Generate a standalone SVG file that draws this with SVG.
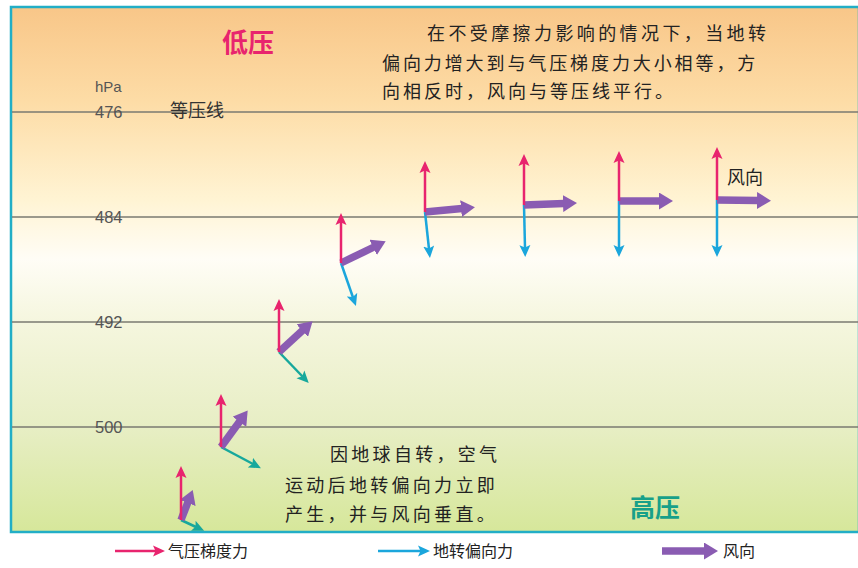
<svg xmlns="http://www.w3.org/2000/svg" width="858" height="568" viewBox="0 0 858 568">
<defs>
<linearGradient id="bg" x1="0" y1="6" x2="0" y2="533" gradientUnits="userSpaceOnUse">
<stop offset="0" stop-color="#f8c688"/>
<stop offset="0.18" stop-color="#fddca6"/>
<stop offset="0.37" stop-color="#fff4d4"/>
<stop offset="0.48" stop-color="#fffdf6"/>
<stop offset="0.6" stop-color="#f5f6de"/>
<stop offset="0.8" stop-color="#e7eec4"/>
<stop offset="1" stop-color="#d6e79a"/>
</linearGradient>
<marker id="hr" viewBox="0 -6 12 12" markerUnits="userSpaceOnUse" markerWidth="12" markerHeight="12" refX="3" refY="0" orient="auto"><path d="M0,-5.5 L12,0 L0,5.5 L2.5,0 Z" fill="#e8246e"/></marker>
<marker id="hb" viewBox="0 -6 12 12" markerUnits="userSpaceOnUse" markerWidth="12" markerHeight="12" refX="3" refY="0" orient="auto"><path d="M0,-5.5 L12,0 L0,5.5 L2.5,0 Z" fill="#1ba6dc"/></marker>
<marker id="ht" viewBox="0 -6 12 12" markerUnits="userSpaceOnUse" markerWidth="12" markerHeight="12" refX="3" refY="0" orient="auto"><path d="M0,-5.5 L12,0 L0,5.5 L2.5,0 Z" fill="#17a89c"/></marker>
<marker id="hp" viewBox="0 -8.5 14 17" markerUnits="userSpaceOnUse" markerWidth="14" markerHeight="17" refX="1" refY="0" orient="auto"><path d="M0,-8.5 L14,0 L0,8.5 Z" fill="#8a5cb2"/></marker>
<clipPath id="pc"><rect x="11" y="7" width="848" height="525"/></clipPath>
</defs>
<style>
.iso{stroke:#7a7a70;stroke-width:1.3}
.num{font-family:"Liberation Sans",Arial,sans-serif;font-size:16.5px;fill:#555}
.cn{font-family:"Noto Sans CJK SC","Noto Sans",sans-serif;fill:#222}
.r{stroke:#e8246e;stroke-width:2.5;fill:none;marker-end:url(#hr)}
.b{stroke:#1ba6dc;stroke-width:2.5;fill:none;marker-end:url(#hb)}
.t{stroke:#17a89c;stroke-width:2.5;fill:none;marker-end:url(#ht)}
.p{stroke:#8a5cb2;stroke-width:7.5;fill:none;marker-end:url(#hp)}
</style>
<rect width="858" height="568" fill="#ffffff"/>
<rect x="11" y="7" width="848" height="525" fill="url(#bg)" stroke="#22aec6" stroke-width="2.5"/>
<g id="isobars">
<line class="iso" x1="12" y1="112" x2="858" y2="112"/>
<line class="iso" x1="12" y1="217" x2="858" y2="217"/>
<line class="iso" x1="12" y1="322" x2="858" y2="322"/>
<line class="iso" x1="12" y1="427" x2="858" y2="427"/>
<text class="num" x="95" y="92" style="font-size:15px">hPa</text>
<text class="num" x="95" y="118">476</text>
<text class="num" x="95" y="223">484</text>
<text class="num" x="95" y="328">492</text>
<text class="num" x="95" y="433">500</text>
<text class="cn" x="170" y="117" font-size="18" style="fill:#333">等压线</text>
</g>
<g id="labels">
<text class="cn" x="222" y="52" font-size="26" font-weight="bold" style="fill:#e8246e">低压</text>
<text class="cn" x="630" y="517" font-size="25" font-weight="bold" style="fill:#17a089">高压</text>
<text class="cn" font-size="18"><tspan x="427" y="40" letter-spacing="3.4">在不受摩擦力影响的情况下，当地转</tspan><tspan x="382" y="70" letter-spacing="2.9">偏向力增大到与气压梯度力大小相等，方</tspan><tspan x="382" y="98" letter-spacing="3">向相反时，风向与等压线平行。</tspan></text>
<text class="cn" font-size="18" letter-spacing="3.3"><tspan x="330" y="461">因地球自转，空气</tspan><tspan x="285" y="492">运动后地转偏向力立即</tspan><tspan x="285" y="521">产生，并与风向垂直。</tspan></text>
<text class="cn" x="727" y="184" font-size="18">风向</text>
</g>
<g id="connectors" clip-path="url(#pc)">
<g id="v1"><line class="t" x1="181" y1="520" x2="196" y2="527"/><line class="p" x1="181" y1="520" x2="188" y2="502"/><line class="r" x1="181" y1="520" x2="181" y2="475"/></g>
<g id="v2"><line class="t" x1="221" y1="447" x2="253" y2="464"/><line class="p" x1="221" y1="447" x2="240" y2="421"/><line class="r" x1="221" y1="447" x2="221" y2="403"/></g>
<g id="v3"><line class="t" x1="279" y1="352" x2="302.5" y2="376.5"/><line class="p" x1="279" y1="352" x2="303" y2="330"/><line class="r" x1="279" y1="352" x2="279" y2="308"/></g>
<g id="v4"><line class="b" x1="341" y1="263" x2="353" y2="297.5"/><line class="p" x1="341" y1="263" x2="374" y2="247"/><line class="r" x1="341" y1="263" x2="341" y2="222"/></g>
<g id="v5"><line class="b" x1="425" y1="212" x2="429" y2="249"/><line class="p" x1="425" y1="212" x2="462" y2="208.5"/><line class="r" x1="425" y1="212" x2="425" y2="170"/></g>
<g id="v6"><line class="b" x1="524" y1="205" x2="525" y2="248"/><line class="p" x1="524" y1="205" x2="564" y2="203.5"/><line class="r" x1="524" y1="205" x2="524" y2="163"/></g>
<g id="v7"><line class="b" x1="619" y1="201" x2="619" y2="248"/><line class="p" x1="619" y1="201" x2="660" y2="201"/><line class="r" x1="619" y1="201" x2="619" y2="160"/></g>
<g id="v8"><line class="b" x1="717" y1="200" x2="717" y2="248"/><line class="p" x1="717" y1="200" x2="758" y2="200.5"/><line class="r" x1="717" y1="200" x2="717" y2="156"/></g>
</g>
<g id="legend">
<line class="r" x1="115" y1="551" x2="156" y2="551"/>
<text class="cn" x="168" y="557" font-size="16">气压梯度力</text>
<line class="b" x1="378" y1="551" x2="421" y2="551"/>
<text class="cn" x="433" y="557" font-size="16">地转偏向力</text>
<line class="p" x1="662" y1="551" x2="705" y2="551"/>
<text class="cn" x="723" y="557" font-size="16">风向</text>
</g>
</svg>
